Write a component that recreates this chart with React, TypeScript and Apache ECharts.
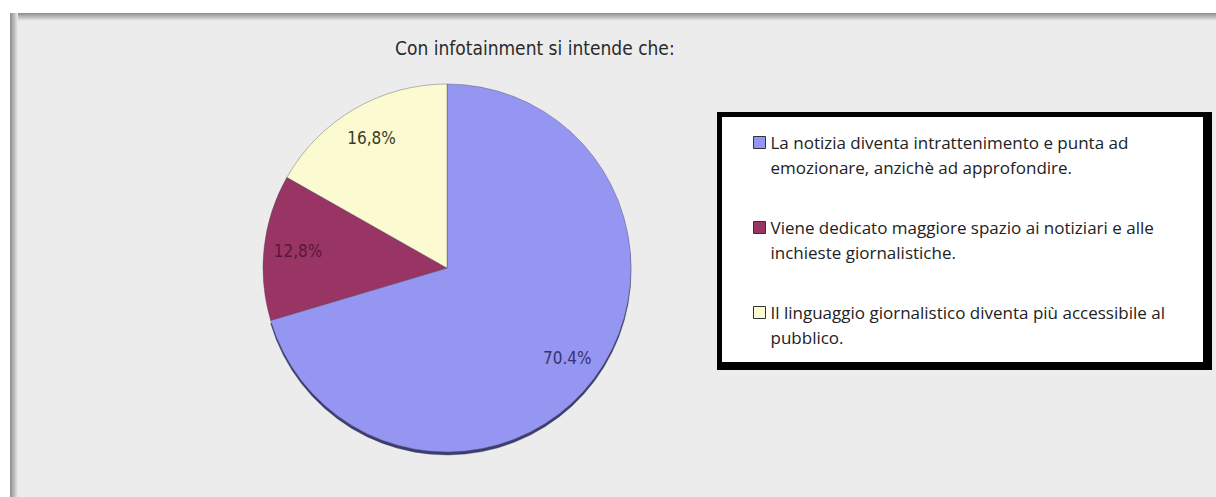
import React, { useEffect, useRef } from "react";
import * as echarts from "echarts";

const TITLE = "Con infotainment si intende che:";
const legendLines: string[][] = [
  ["La notizia diventa intrattenimento e punta ad", "emozionare, anzichè ad approfondire."],
  ["Viene dedicato maggiore spazio ai notiziari e alle", "inchieste giornalistiche."],
  ["Il linguaggio giornalistico diventa più accessibile al", "pubblico."],
];
const categories = legendLines.map((l) => l.join(" "));
const values = [70.4, 12.8, 16.8];
const sliceLabels = ["70.4%", "12,8%", "16,8%"];
const colors = ["#9595f2", "#983564", "#fbfad0"];
const labelColors = ["#34346e", "#5a1838", "#3a3a26"];

export default function App() {
  const ref = useRef<HTMLDivElement>(null);
  useEffect(() => {
    if (!ref.current) return;
    const chart = echarts.init(ref.current, undefined, { renderer: "svg" });
    const mainData = categories.map((name, i) => ({
      name,
      value: values[i],
      itemStyle:
        i === 0
          ? { color: colors[i], shadowColor: "rgba(40,40,100,0.9)", shadowOffsetY: 3, shadowBlur: 1 }
          : { color: colors[i] },
    }));
    const labelData = categories.map((name, i) => ({
      name,
      value: values[i],
      label: { color: labelColors[i] },
    }));
    chart.setOption({
      animation: false,
      backgroundColor: "#ffffff",
      title: {
        text: TITLE,
        left: 390,
        top: 33,
        textStyle: {
          fontFamily: "'Liberation Sans Narrow', 'DejaVu Sans Condensed', Arial, sans-serif",
          fontSize: 19,
          fontWeight: "normal",
          color: "#2a2a2a",
        },
      },
      legend: {
        orient: "vertical",
        left: 753,
        top: 105,
        padding: 0,
        itemGap: 10,
        itemWidth: 12,
        itemHeight: 12,
        icon: "rect",
        selectedMode: false,
        data: categories,
        itemStyle: { borderColor: "#333", borderWidth: 1 },
        formatter: (name: string) => {
          const idx = categories.indexOf(name);
          return ["", ...legendLines[idx]].join("\n");
        },
        textStyle: {
          fontFamily: "'Open Sans', 'Noto Sans', sans-serif",
          fontSize: 17,
          lineHeight: 25,
          color: "#222",
        },
      },
      graphic: [
        { type: "rect", z: -10, shape: { x: 10, y: 13, width: 1206, height: 484 }, style: { fill: "#ececec" } },
        {
          type: "rect",
          z: -9,
          shape: { x: 10, y: 13, width: 1206, height: 8 },
          style: {
            fill: new echarts.graphic.LinearGradient(0, 0, 0, 1, [
              { offset: 0, color: "#8c8c8c" },
              { offset: 1, color: "#ececec" },
            ]),
          },
        },
        {
          type: "rect",
          z: -9,
          shape: { x: 10, y: 13, width: 8, height: 484 },
          style: {
            fill: new echarts.graphic.LinearGradient(0, 0, 1, 0, [
              { offset: 0, color: "#8c8c8c" },
              { offset: 1, color: "#ececec" },
            ]),
          },
        },
        { type: "rect", z: -8, shape: { x: 717, y: 112, width: 495, height: 258 }, style: { fill: "#000" } },
        { type: "rect", z: -7, shape: { x: 722, y: 117, width: 481, height: 245 }, style: { fill: "#fff" } },
      ],
      series: [
        {
          type: "pie",
          center: [447, 268],
          radius: 184,
          startAngle: 90,
          clockwise: true,
          label: { show: false },
          labelLine: { show: false },
          itemStyle: {
            borderColor: "rgba(70,70,90,0.55)",
            borderWidth: 0.7,
          },
          emphasis: { disabled: true },
          data: mainData,
        },
        {
          type: "pie",
          center: [447, 268],
          radius: [111, 183],
          startAngle: 90,
          clockwise: true,
          silent: true,
          itemStyle: { color: "rgba(0,0,0,0)" },
          label: {
            show: true,
            position: "inside",
            fontFamily: "'Liberation Sans Narrow', 'DejaVu Sans Condensed', Arial, sans-serif",
            fontSize: 17,
            formatter: (p: any) => sliceLabels[p.dataIndex],
          },
          labelLine: { show: false },
          emphasis: { disabled: true },
          data: labelData,
        },
      ],
    });
    return () => chart.dispose();
  }, []);
  return <div ref={ref} style={{ position: "absolute", left: 0, top: 0, width: 1216, height: 497 }} />;
}
